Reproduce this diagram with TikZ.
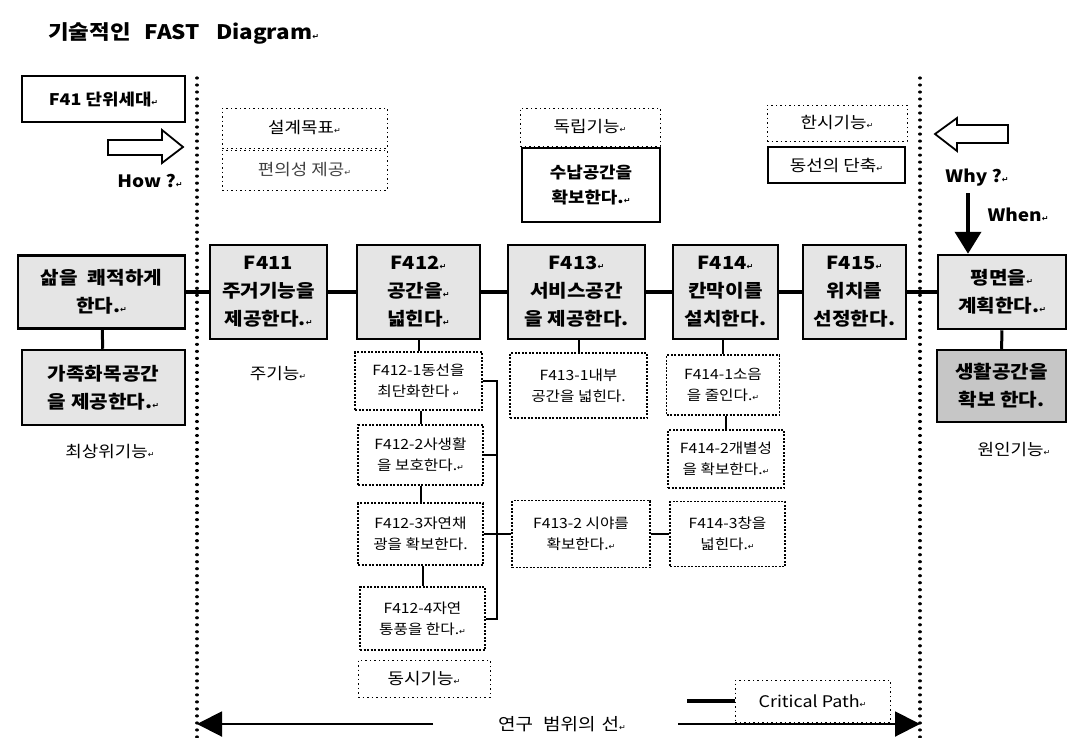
\documentclass[tikz,border=0pt]{standalone}
\usepackage{fontspec}
\setmainfont[FakeStretch=1.12]{Noto Sans CJK KR}
\newfontfamily\dejavu{DejaVu Sans}
\usetikzlibrary{arrows.meta}
\newcommand{\crm}{{\dejavu\fontsize{8}{8}\selectfont ↵}}
\newcommand{\mfs}{\bfseries\fontsize{18}{28}\selectfont}
\newcommand{\sfs}{\fontsize{14}{21}\selectfont}
\newcommand{\lfs}{\fontsize{16}{20}\selectfont}
\tikzset{
  critbox/.style={draw, line width=2.5pt, fill=gray!20, align=center, font=\mfs, inner sep=1pt},
  solidbox/.style={draw, line width=2pt, fill=white, align=center, font=\lfs\bfseries, inner sep=1pt},
  subbox/.style={draw, line width=1.2pt, dash pattern=on 2pt off 1.5pt, fill=white, align=center, font=\sfs, inner sep=1pt},
  lblbox/.style={draw, line width=1pt, dash pattern=on 1.5pt off 3pt, align=center, font=\lfs, inner sep=1pt},
  plain/.style={align=center, font=\lfs, inner sep=1pt},
  crit/.style={line width=4pt},
  link/.style={line width=2pt},
  rangeline/.style={line width=3.2pt, line cap=round, dash pattern=on 0.01pt off 7pt},
  hollow/.style={line width=1.8pt, fill=white, line join=miter}
}
\begin{document}
\begin{tikzpicture}[x=1pt, y=-1pt]
\useasboundingbox (0,0) rectangle (1082,737);
% title
\node[anchor=west, font=\bfseries\fontsize{20}{24}\selectfont, inner sep=0pt] (title) at (48,33) {기술적인\hspace{14pt}FAST\hspace{16pt}Diagram\crm};
% range lines
\coordinate (lt) at (197,78);
\coordinate (lb) at (197,737);
\coordinate (rt) at (920,78);
\coordinate (rb) at (920,737);
\draw[rangeline] (lt) -- (lb);
\draw[rangeline] (rt) -- (rb);
% top left
\node[solidbox, minimum width=163pt, minimum height=46pt] (f41) at (103.5,99) {F41 단위세대\crm};
\draw[hollow] (108,140) -- (162,140) -- (162,130) -- (183,147) -- (162,163) -- (162,155) -- (108,155) -- cycle;
\node[plain, font=\fontsize{17}{20}\selectfont\bfseries] (how) at (150,181) {How ?\crm};
% design goal
\node[lblbox, minimum width=165pt, minimum height=40pt] (goal) at (304.5,128) {설계목표\crm};
\node[lblbox, minimum width=165pt, minimum height=40pt, text=black!75] (conv) at (304.5,170) {편의성 제공\crm};
% independent function
\node[lblbox, minimum width=140pt, minimum height=38pt] (indep) at (590,127) {독립기능\crm};
\node[solidbox, minimum width=138pt, minimum height=74pt, font=\lfs\bfseries\linespread{1.25}\selectfont] (store) at (591,185) {수납공간을\\확보한다.\crm};
% temporary function
\node[lblbox, minimum width=140pt, minimum height=36pt] (temp) at (837,123) {한시기능\crm};
\node[solidbox, minimum width=137pt, minimum height=36pt, font=\lfs] (short) at (836.5,165) {동선의 단축\crm};
% why / when
\draw[hollow] (1008,125) -- (957,125) -- (957,118) -- (935,134) -- (957,151) -- (957,143) -- (1008,143) -- cycle;
\node[plain, font=\fontsize{17}{20}\selectfont\bfseries] (why) at (977,178) {Why ?\crm};
\node[plain, font=\fontsize{17}{20}\selectfont\bfseries] (when) at (1018,215) {When\crm};
% main row
\node[critbox, minimum width=167pt, minimum height=73pt] (sam) at (101.5,292) {삶을\hspace{10pt}쾌적하게\\한다.\crm};
\node[critbox, minimum width=117pt, minimum height=94pt] (f411) at (268.5,292) {F411\\주거기능을\\제공한다.\crm};
\node[critbox, minimum width=123pt, minimum height=94pt] (f412) at (418.5,292) {F412\crm\\공간을\crm\\넓힌다\crm};
\node[critbox, minimum width=137pt, minimum height=94pt] (f413) at (576.5,292) {F413\crm\\서비스공간\\을 제공한다.};
\node[critbox, minimum width=105pt, minimum height=94pt] (f414) at (725.5,292) {F414\crm\\칸막이를\\설치한다.};
\node[critbox, minimum width=103pt, minimum height=94pt] (f415) at (854.5,292) {F415\crm\\위치를\\선정한다.};
\node[critbox, minimum width=128pt, minimum height=74pt] (plan) at (1002,292) {평면을\crm\\계획한다.\crm};
\draw[crit] (sam) -- (f411);
\draw[crit] (f411) -- (f412);
\draw[crit] (f412) -- (f413);
\draw[crit] (f413) -- (f414);
\draw[crit] (f414) -- (f415);
\draw[crit] (f415) -- (plan);
\draw[line width=4pt, -{Triangle[length=22pt,width=26pt]}] (968,193) -- (plan.north -| 968,0);
% below main row
\node[critbox, minimum width=163pt, minimum height=75pt] (fam) at (103.5,387.5) {가족화목공간\\을 제공한다.\crm};
\draw[line width=3pt] (sam) -- (fam);
\node[plain] (top) at (110,452) {최상위기능\crm};
\node[plain] (basic) at (278,374) {주기능\crm};
\node[critbox, fill=gray!45, minimum width=129pt, minimum height=72pt] (life) at (1001.5,386) {생활공간을\\확보 한다.};
\draw[line width=3pt] (plan) -- (life);
\node[plain] (cause) at (1014,450) {원인기능\crm};
% F412 sub functions
\node[subbox, minimum width=127pt, minimum height=58pt] (s1) at (418.5,381) {F412-1동선을\\최단화한다 \crm};
\node[subbox, minimum width=125pt, minimum height=60pt] (s2) at (420.5,455) {F412-2사생활\\을 보호한다.\crm};
\node[subbox, minimum width=125pt, minimum height=62pt] (s3) at (420.5,534) {F412-3자연채\\광을 확보한다.};
\node[subbox, minimum width=125pt, minimum height=63pt] (s4) at (422.5,618.5) {F412-4자연\\통풍을 한다.\crm};
\node[lblbox, minimum width=132pt, minimum height=37pt] (simul) at (424,678.5) {동시기능\crm};
\draw[link] (f412.south -| s1.north) -- (s1.north);
\draw[link] (s1.south -| s2.north) -- (s2.north);
\draw[link] (s2.south -| s3.north) -- (s3.north);
\draw[link] (s3.south -| s4.north) -- (s4.north);
\coordinate (bx) at (497,0);
\draw[link] (s1.east) -- (s1.east -| bx) -- (s4.east -| bx) -- (s4.east);
\draw[link] (s2.east) -- (s2.east -| bx);
% F413 sub functions
\node[subbox, minimum width=137pt, minimum height=65pt] (t1) at (578.5,385.5) {F413-1내부\\공간을 넓힌다.};
\node[subbox, minimum width=138pt, minimum height=67pt] (t2) at (581,534) {F413-2 시야를\\확보한다.\crm};
\draw[link] (f413.south -| t1.north) -- (t1.north);
\draw[link] (s3.east) -- (t2.west);
% F414 sub functions
\node[subbox, minimum width=113pt, minimum height=60pt] (u1) at (723,385) {F414-1소음\\을 줄인다.\crm};
\node[subbox, minimum width=116pt, minimum height=58pt] (u2) at (726,459) {F414-2개별성\\을 확보한다.\crm};
\node[subbox, minimum width=115pt, minimum height=65pt] (u3) at (727.5,534) {F414-3창을\\넓힌다.\crm};
\draw[link] (f414.south -| u1.north) -- (u1.north);
\draw[link] (u1.south -| u2.north) -- (u2.north);
\draw[link] (t2.east) -- (u3.west);
% bottom range arrows
\node[plain, font=\fontsize{17}{20}\selectfont] (range) at (562,724) {연구\hspace{10pt}범위의\hspace{6pt}선\crm};
\coordinate (la) at (433,724);
\coordinate (ra) at (678,724);
\draw[link, -{Triangle[length=25pt,width=25pt]}] (la) -- (lb |- la);
\draw[link, -{Triangle[length=25pt,width=25pt]}] (ra) -- (rb |- ra);
% legend
\node[lblbox, minimum width=155pt, minimum height=42pt, font=\lfs] (cp) at (812.5,701) {Critical Path\crm};
\coordinate (cl) at (687,701);
\draw[crit] (cl) -- (cp.west);
\end{tikzpicture}
\end{document}
